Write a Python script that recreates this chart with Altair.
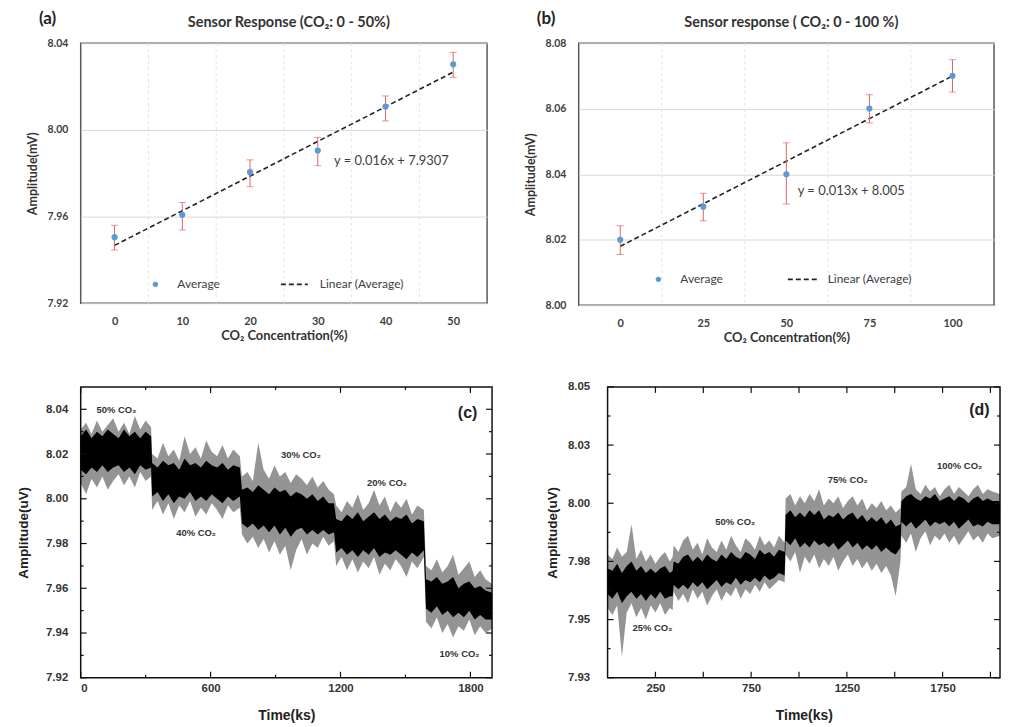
import altair as alt
import pandas as pd

FX = "Lato"              # Excel-like panels (a), (b)
FO = "Liberation Sans"   # Origin-like panels (c), (d)
RED = "#e06666"
BLUE = "#5b9bd5"
TXT = "#404040"

# ---------------- Panel (a) ----------------
a_conc = [0, 10, 20, 30, 40, 50]
a_avg = [7.9505, 7.9608, 7.9805, 7.9905, 8.0108, 8.0303]
a_hi = [7.9560, 7.9665, 7.9862, 7.9966, 8.0157, 8.0358]
a_lo = [7.9446, 7.9538, 7.9738, 7.9835, 8.0042, 8.0243]
a_trend_x = [0, 50]
a_trend_y = [7.9467, 8.0267]
a_yticks = [7.92, 7.96, 8.00, 8.04]
a_xgrid = [5, 15, 25, 35, 45]

# ---------------- Panel (b) ----------------
b_conc = [0, 25, 50, 75, 100]
b_avg = [8.0200, 8.0301, 8.0400, 8.0601, 8.0701]
b_hi = [8.0243, 8.0342, 8.0496, 8.0643, 8.0750]
b_lo = [8.0155, 8.0258, 8.0309, 8.0557, 8.0651]
b_trend_x = [0, 100]
b_trend_y = [8.018, 8.070]
b_yticks = [8.00, 8.02, 8.04, 8.06, 8.08]
b_xgrid = [12.5, 37.5, 62.5, 87.5]

# ---------------- Panel (c): signal envelope ----------------
c_t = [0, 25, 50, 75, 100, 125, 150, 175, 200, 225, 250, 275, 300, 325,
       330, 355, 380, 405, 430, 455, 480, 505, 530, 555, 580, 605, 630, 655, 680, 705, 735,
       745, 770, 795, 820, 845, 870, 895, 920, 945, 970, 995, 1020, 1045, 1070, 1095, 1120, 1145, 1170,
       1180, 1205, 1230, 1255, 1280, 1305, 1330, 1355, 1380, 1405, 1430, 1455, 1480, 1505, 1530, 1555, 1585,
       1595, 1620, 1645, 1670, 1695, 1720, 1745, 1770, 1795, 1820, 1845, 1870, 1900]
# outer (spike) envelope
c_hi = [8.031, 8.034, 8.029, 8.035, 8.030, 8.033, 8.036, 8.030, 8.034, 8.029, 8.037, 8.031, 8.035, 8.032,
        8.020, 8.018, 8.025, 8.019, 8.022, 8.017, 8.028, 8.020, 8.023, 8.018, 8.026, 8.021, 8.019, 8.024, 8.018, 8.022, 8.019,
        8.010, 8.012, 8.008, 8.025, 8.013, 8.009, 8.015, 8.010, 8.012, 8.007, 8.011, 8.009, 8.006, 8.010, 8.005, 8.008, 8.004, 8.002,
        7.997, 7.994, 7.999, 7.996, 8.002, 7.995, 7.998, 8.004, 7.997, 8.001, 7.994, 7.999, 7.996, 8.000, 7.993, 7.997, 7.995,
        7.970, 7.968, 7.973, 7.967, 7.970, 7.975, 7.966, 7.969, 7.972, 7.965, 7.968, 7.964, 7.962]
c_lo = [8.007, 8.002, 8.009, 8.005, 8.010, 8.004, 8.008, 8.011, 8.006, 8.010, 8.005, 8.012, 8.008, 8.010,
        7.995, 7.999, 7.993, 7.998, 7.991, 7.997, 7.994, 7.999, 7.992, 7.996, 7.993, 7.998, 7.995, 7.991, 7.997, 7.994, 7.996,
        7.984, 7.980, 7.983, 7.978, 7.982, 7.976, 7.981, 7.975, 7.979, 7.968, 7.977, 7.982, 7.975, 7.980, 7.978, 7.983, 7.979, 7.981,
        7.970, 7.974, 7.968, 7.973, 7.967, 7.972, 7.969, 7.974, 7.966, 7.971, 7.968, 7.973, 7.970, 7.965, 7.972, 7.969, 7.974,
        7.945, 7.942, 7.947, 7.940, 7.944, 7.938, 7.943, 7.941, 7.946, 7.939, 7.943, 7.940, 7.942]
# dense (dark) core of the trace
c_core_hi = [8.028, 8.031, 8.027, 8.030, 8.028, 8.031, 8.029, 8.027, 8.031, 8.028, 8.030, 8.027, 8.030, 8.028,
             8.016, 8.014, 8.017, 8.015, 8.016, 8.013, 8.018, 8.015, 8.016, 8.014, 8.017, 8.015, 8.014, 8.016, 8.013, 8.015, 8.014,
             8.004, 8.005, 8.003, 8.006, 8.004, 8.002, 8.005, 8.003, 8.004, 8.001, 8.003, 8.002, 8.000, 8.002, 7.999, 8.001, 7.998, 7.998,
             7.991, 7.990, 7.993, 7.991, 7.994, 7.990, 7.992, 7.994, 7.991, 7.993, 7.990, 7.992, 7.991, 7.993, 7.989, 7.991, 7.990,
             7.964, 7.963, 7.965, 7.962, 7.963, 7.965, 7.960, 7.962, 7.963, 7.960, 7.961, 7.959, 7.958]
c_core_lo = [8.013, 8.011, 8.014, 8.012, 8.015, 8.012, 8.014, 8.015, 8.012, 8.014, 8.011, 8.015, 8.013, 8.014,
             8.001, 8.003, 7.999, 8.002, 7.998, 8.001, 8.000, 8.003, 7.999, 8.001, 7.999, 8.002, 8.000, 7.998, 8.001, 7.999, 8.001,
             7.989, 7.987, 7.989, 7.986, 7.988, 7.985, 7.988, 7.984, 7.987, 7.983, 7.986, 7.987, 7.984, 7.986, 7.984, 7.986, 7.984, 7.985,
             7.976, 7.978, 7.975, 7.977, 7.974, 7.977, 7.975, 7.978, 7.974, 7.976, 7.975, 7.977, 7.975, 7.973, 7.976, 7.974, 7.977,
             7.951, 7.949, 7.952, 7.948, 7.950, 7.947, 7.949, 7.947, 7.950, 7.946, 7.948, 7.946, 7.946]
c_labels = ["50% CO₂", "40% CO₂", "30% CO₂", "20% CO₂", "10% CO₂"]
c_label_t = [165, 533, 1017, 1415, 1750]
c_label_v = [8.0397, 7.9846, 8.0195, 8.0070, 7.9308]
c_xlabels = [0, 600, 1200, 1800]
c_xminor = [300, 900, 1500]
c_ymajor = [7.92, 7.94, 7.96, 7.98, 8.00, 8.02, 8.04]
c_yminor = [7.93, 7.95, 7.97, 7.99, 8.01, 8.03]

# ---------------- Panel (d) ----------------
d_t = [0, 25, 50, 75, 100, 125, 150, 175, 200, 225, 250, 275, 300, 325, 340,
       345, 370, 395, 420, 445, 470, 495, 520, 545, 570, 595, 620, 645, 670, 695, 720, 745, 770, 795, 820, 845, 870, 895, 925,
       930, 955, 980, 1005, 1030, 1055, 1080, 1105, 1130, 1155, 1180, 1205, 1230, 1255, 1280, 1305, 1330, 1355, 1380, 1405, 1430, 1455, 1480, 1505, 1530,
       1535, 1560, 1585, 1610, 1635, 1660, 1685, 1710, 1735, 1760, 1785, 1810, 1835, 1860, 1885, 1910, 1935, 1960, 1985, 2010, 2050]
d_hi = [7.978, 7.976, 7.981, 7.977, 7.979, 7.991, 7.976, 7.980, 7.975, 7.978, 7.974, 7.977, 7.979, 7.975, 7.977,
        7.982, 7.979, 7.984, 7.986, 7.980, 7.983, 7.978, 7.985, 7.981, 7.979, 7.984, 7.980, 7.986, 7.982, 7.979, 7.985, 7.983, 7.980, 7.986, 7.982, 7.984, 7.981, 7.986, 7.983,
        8.002, 8.004, 7.999, 8.003, 8.000, 8.004, 8.001, 8.006, 7.999, 8.002, 8.000, 8.003, 7.998, 8.001, 8.003, 7.999, 8.002, 7.997, 8.000, 7.998, 8.001, 7.997, 7.999, 7.996, 7.998,
        8.005, 8.007, 8.017, 8.006, 8.004, 8.008, 8.005, 8.007, 8.003, 8.006, 8.008, 8.004, 8.007, 8.005, 8.003, 8.006, 8.008, 8.004, 8.006, 8.005, 8.004]
d_lo = [7.955, 7.952, 7.956, 7.934, 7.953, 7.957, 7.951, 7.955, 7.950, 7.956, 7.953, 7.957, 7.952, 7.955, 7.954,
        7.962, 7.958, 7.961, 7.957, 7.963, 7.959, 7.962, 7.956, 7.960, 7.963, 7.958, 7.962, 7.960, 7.964, 7.959, 7.963, 7.961, 7.965, 7.962, 7.966, 7.963, 7.965, 7.967, 7.966,
        7.978, 7.975, 7.979, 7.970, 7.977, 7.974, 7.978, 7.972, 7.976, 7.973, 7.977, 7.971, 7.975, 7.978, 7.973, 7.976, 7.972, 7.975, 7.971, 7.974, 7.970, 7.973, 7.969, 7.960, 7.975,
        7.986, 7.983, 7.987, 7.979, 7.985, 7.988, 7.982, 7.986, 7.984, 7.987, 7.983, 7.986, 7.982, 7.985, 7.988, 7.984, 7.986, 7.983, 7.987, 7.985, 7.986]
d_core_hi = [7.972, 7.971, 7.974, 7.970, 7.973, 7.975, 7.971, 7.973, 7.970, 7.972, 7.970, 7.972, 7.973, 7.970, 7.971,
             7.975, 7.974, 7.977, 7.978, 7.975, 7.977, 7.975, 7.978, 7.976, 7.975, 7.978, 7.976, 7.979, 7.977, 7.976, 7.979, 7.978, 7.976, 7.980, 7.978, 7.979, 7.977, 7.980, 7.979,
             7.995, 7.997, 7.994, 7.996, 7.994, 7.997, 7.995, 7.997, 7.993, 7.995, 7.994, 7.996, 7.993, 7.995, 7.996, 7.993, 7.995, 7.992, 7.994, 7.992, 7.994, 7.991, 7.993, 7.990, 7.991,
             8.001, 8.003, 8.004, 8.002, 8.001, 8.003, 8.002, 8.004, 8.001, 8.002, 8.003, 8.001, 8.003, 8.002, 8.000, 8.002, 8.003, 8.001, 8.002, 8.001, 8.001]
d_core_lo = [7.961, 7.959, 7.962, 7.957, 7.960, 7.962, 7.959, 7.961, 7.958, 7.961, 7.959, 7.962, 7.959, 7.960, 7.960,
             7.965, 7.963, 7.965, 7.963, 7.966, 7.964, 7.966, 7.963, 7.965, 7.967, 7.964, 7.966, 7.965, 7.968, 7.965, 7.967, 7.966, 7.968, 7.966, 7.969, 7.967, 7.968, 7.970, 7.969,
             7.984, 7.982, 7.985, 7.981, 7.983, 7.981, 7.984, 7.982, 7.983, 7.981, 7.983, 7.980, 7.982, 7.984, 7.981, 7.983, 7.980, 7.982, 7.980, 7.982, 7.979, 7.981, 7.979, 7.978, 7.981,
             7.992, 7.990, 7.992, 7.989, 7.991, 7.993, 7.990, 7.992, 7.991, 7.992, 7.990, 7.992, 7.989, 7.991, 7.993, 7.990, 7.991, 7.990, 7.992, 7.991, 7.991]
d_labels = ["25% CO₂", "50% CO₂", "75% CO₂", "100% CO₂"]
d_label_t = [234, 667, 1255, 1839]
d_label_v = [7.9463, 7.9920, 8.0100, 8.0160]
d_xlabels = [250, 750, 1250, 1750]
d_xminor = [500, 1000, 1500, 2000]
d_ymajor = [7.925, 7.95, 7.975, 8.00, 8.025, 8.05]
d_yminor = [7.9375, 7.9625, 7.9875, 8.0125, 8.0375]

ONE = pd.DataFrame({"t": [""]})


def anchor_rule(x):
    # invisible element that fixes the left edge of each row's bounds
    return alt.Chart(ONE).mark_rule(strokeOpacity=0, opacity=0).encode(
        x=alt.value(x), x2=alt.value(x + 1), y=alt.value(0))


def response_panel(conc, avg, hi, lo, tx, ty, yticks, xgrid, xdom, ydom, W, H,
                   title, tag, eq, eq_x, eq_y, leg, anchor):
    pts = pd.DataFrame({"c": conc, "v": avg, "hi": hi, "lo": lo})
    tr = pd.DataFrame({"c": tx, "v": ty})
    gx = pd.DataFrame({"c": xgrid})
    xs = alt.Scale(domain=xdom, nice=False, zero=False)
    ys = alt.Scale(domain=ydom, nice=False, zero=False)
    xax = alt.Axis(values=conc, ticks=False, domain=False, grid=False, format="d",
                   labelFont=FX, labelFontSize=11, labelFontWeight="bold", labelColor=TXT,
                   labelPadding=12, title="CO₂ Concentration(%)", titleFont=FX,
                   titleFontSize=13, titleFontWeight="bold", titleColor="#333333", titlePadding=3)
    yax = alt.Axis(values=yticks, format=".2f", ticks=False, domain=False, grid=True,
                   gridColor="#d9d9d9", gridWidth=1,
                   labelFont=FX, labelFontSize=10.5, labelFontWeight="bold", labelColor=TXT,
                   labelPadding=13, title="Amplitude(mV)", titleFont=FX, titleFontSize=12.5,
                   titleFontWeight="bold", titleColor="#333333", titlePadding=8)
    X = alt.X("c:Q", scale=xs, axis=xax)
    grid = alt.Chart(gx).mark_rule(color="#e3e3e3", strokeDash=[3, 3], strokeWidth=1).encode(x=X)
    trend = alt.Chart(tr).mark_line(color="#222222", strokeDash=[5, 3], strokeWidth=1.6).encode(
        x=X, y=alt.Y("v:Q", scale=ys, axis=yax))
    ebar = alt.Chart(pts).mark_rule(color=RED, strokeWidth=1).encode(
        x=X, y=alt.Y("lo:Q", scale=ys, axis=yax), y2="hi:Q")
    cap_hi = alt.Chart(pts).mark_tick(color=RED, orient="horizontal", size=7, thickness=1).encode(
        x=X, y=alt.Y("hi:Q", scale=ys, axis=yax))
    cap_lo = alt.Chart(pts).mark_tick(color=RED, orient="horizontal", size=7, thickness=1).encode(
        x=X, y=alt.Y("lo:Q", scale=ys, axis=yax))
    dots = alt.Chart(pts).mark_circle(color=BLUE, size=38, opacity=1).encode(
        x=X, y=alt.Y("v:Q", scale=ys, axis=yax))
    eqt = alt.Chart(pd.DataFrame({"c": [eq_x], "v": [eq_y], "t": [eq]})).mark_text(
        align="left", baseline="middle", font=FX, fontSize=13, color=TXT).encode(
        x=X, y=alt.Y("v:Q", scale=ys, axis=yax), text="t:N")
    dx, ty0, rx1, rx2, tx2 = leg
    leg_dot = alt.Chart(ONE).mark_circle(color=BLUE, size=28, opacity=1).encode(
        x=alt.value(dx), y=alt.value(ty0))
    leg_t1 = alt.Chart(pd.DataFrame({"t": ["Average"]})).mark_text(
        align="left", baseline="middle", font=FX, fontSize=12, color=TXT).encode(
        x=alt.value(dx + 22), y=alt.value(ty0), text="t:N")
    leg_line = alt.Chart(ONE).mark_rule(color="#222222", strokeDash=[5, 3], strokeWidth=1.6).encode(
        x=alt.value(rx1), x2=alt.value(rx2), y=alt.value(ty0))
    leg_t2 = alt.Chart(pd.DataFrame({"t": ["Linear (Average)"]})).mark_text(
        align="left", baseline="middle", font=FX, fontSize=12, color=TXT).encode(
        x=alt.value(tx2), y=alt.value(ty0), text="t:N")
    tagm = alt.Chart(pd.DataFrame({"t": [tag]})).mark_text(
        align="left", baseline="top", font=FX, fontSize=17, fontWeight="bold", color="#222222").encode(
        x=alt.value(-42), y=alt.value(-32), text="t:N")
    ttl = alt.Chart(pd.DataFrame({"t": [title]})).mark_text(
        align="center", baseline="middle", font=FX, fontSize=14.5, fontWeight="bold",
        color="#333333").encode(x=alt.value(W / 2 + 5), y=alt.value(-20), text="t:N")
    layers = [grid, trend, ebar, cap_hi, cap_lo, dots, eqt,
              leg_dot, leg_t1, leg_line, leg_t2, tagm, ttl]
    if anchor is not None:
        layers.append(anchor_rule(anchor))
    return alt.layer(*layers).properties(
        width=W, height=H, view=alt.ViewBackground(stroke="#595959", strokeWidth=1.5))


def trace_panel(t, hi, lo, chi, clo, xdom, ydom, xlabels, xminor, ymajor, yminor,
                W, H, labels, lt, lv, tag, tag_t, tag_v, ylab_expr, ypad, ytpad, minorL, anchor):
    sig = pd.DataFrame({"t": t, "hi": hi, "lo": lo, "chi": chi, "clo": clo})
    xs = alt.Scale(domain=xdom, nice=False, zero=False)
    ys = alt.Scale(domain=ydom, nice=False, zero=False)
    xax = alt.Axis(values=xlabels, ticks=False, domain=False, grid=False, format="d",
                   labelFont=FO, labelFontSize=11.5, labelFontWeight="bold", labelColor="#333333",
                   labelPadding=5, title="Time(ks)", titleFont=FO, titleFontSize=14,
                   titleFontWeight="bold", titleColor="#222222", titlePadding=14)
    yax = alt.Axis(values=ymajor, ticks=False, domain=False, grid=False, labelExpr=ylab_expr,
                   labelFont=FO, labelFontSize=11.5, labelFontWeight="bold", labelColor="#333333",
                   labelPadding=ypad, title="Amplitude(uV)", titleFont=FO, titleFontSize=13.5,
                   titleFontWeight="bold", titleColor="#222222", titlePadding=ytpad)
    X = alt.X("t:Q", scale=xs, axis=xax)
    outer = alt.Chart(sig).mark_area(color="#000000", opacity=0.42).encode(
        x=X, y=alt.Y("lo:Q", scale=ys, axis=yax), y2="hi:Q")
    inner = alt.Chart(sig).mark_area(color="#000000", opacity=1).encode(
        x=X, y=alt.Y("clo:Q", scale=ys, axis=yax), y2="chi:Q")
    layers = [outer, inner]
    for vals, L in ((xlabels, 6), (xminor, minorL)):
        df = pd.DataFrame({"t": vals})
        layers.append(alt.Chart(df).mark_rule(color="#111111", strokeWidth=1.2).encode(
            x=X, y=alt.value(H - L), y2=alt.value(H)))
        layers.append(alt.Chart(df).mark_rule(color="#111111", strokeWidth=1.2).encode(
            x=X, y=alt.value(0), y2=alt.value(L)))
    for vals, L in ((ymajor, 6), (yminor, 3)):
        df = pd.DataFrame({"v": vals})
        Y = alt.Y("v:Q", scale=ys, axis=yax)
        layers.append(alt.Chart(df).mark_rule(color="#111111", strokeWidth=1.2).encode(
            y=Y, x=alt.value(0), x2=alt.value(L)))
        layers.append(alt.Chart(df).mark_rule(color="#111111", strokeWidth=1.2).encode(
            y=Y, x=alt.value(W - L), x2=alt.value(W)))
    ann = pd.DataFrame({"t": lt, "v": lv, "s": labels})
    layers.append(alt.Chart(ann).mark_text(font=FO, fontSize=9.5, fontWeight="bold",
                                           color="#333333").encode(
        x=X, y=alt.Y("v:Q", scale=ys, axis=yax), text="s:N"))
    tg = pd.DataFrame({"t": [tag_t], "v": [tag_v], "s": [tag]})
    layers.append(alt.Chart(tg).mark_text(font=FO, fontSize=16, fontWeight="bold", align="right",
                                          color="#222222").encode(
        x=X, y=alt.Y("v:Q", scale=ys, axis=yax), text="s:N"))
    if anchor is not None:
        layers.append(anchor_rule(anchor))
    return alt.layer(*layers).properties(
        width=W, height=H, view=alt.ViewBackground(stroke="#111111", strokeWidth=1.5))


pa = response_panel(a_conc, a_avg, a_hi, a_lo, a_trend_x, a_trend_y, a_yticks, a_xgrid,
                    [-5, 55], [7.92, 8.04], 408, 261,
                    "Sensor Response (CO₂: 0 - 50%)", "(a)", "y = 0.016x + 7.9307", 32.4, 7.9855,
                    (75, 242, 201, 228, 240), -72)
pb = response_panel(b_conc, b_avg, b_hi, b_lo, b_trend_x, b_trend_y, b_yticks, b_xgrid,
                    [-12.5, 112.5], [8.00, 8.08], 417, 263,
                    "Sensor response ( CO₂: 0 - 100 %)", "(b)", "y = 0.013x + 8.005", 53.4, 8.035,
                    (80, 237, 210, 240, 250), None)
pc = trace_panel(c_t, c_hi, c_lo, c_core_hi, c_core_lo, [0, 1900], [7.92, 8.05],
                 c_xlabels, c_xminor, c_ymajor, c_yminor, 413, 292,
                 c_labels, c_label_t, c_label_v, "(c)", 1832, 8.0383,
                 "format(datum.value, '.2f')", 13, 15, 3, -72)
pd_ = trace_panel(d_t, d_hi, d_lo, d_core_hi, d_core_lo, [0, 2050], [7.925, 8.05],
                  d_xlabels, d_xminor, d_ymajor, d_yminor, 394, 292,
                  d_labels, d_label_t, d_label_v, "(d)", 1995, 8.040,
                  "format(datum.value + 0.0001, '.2f')", 18, 8, 6, None)

row1 = alt.hconcat(pa, pb, spacing=92, bounds="flush")
row2 = alt.hconcat(pc, pd_, spacing=116, bounds="flush")
chart = alt.vconcat(row1, row2, spacing=35).properties(
    padding={"left": 0, "top": 0, "right": 0, "bottom": 0}
).configure(background="white")

chart.save("out.html", embed_options={"renderer": "svg", "actions": False})
